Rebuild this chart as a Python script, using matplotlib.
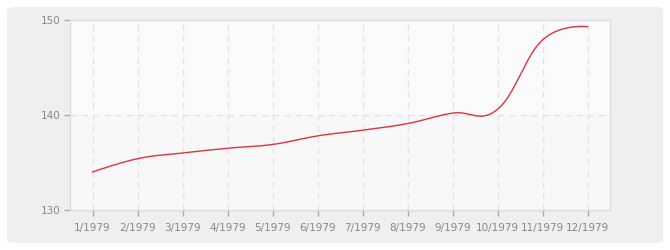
import numpy as np
import matplotlib
matplotlib.use("Agg")
import matplotlib.pyplot as plt
from matplotlib.patches import FancyBboxPatch, Rectangle

months = ["1/1979", "2/1979", "3/1979", "4/1979", "5/1979", "6/1979",
          "7/1979", "8/1979", "9/1979", "10/1979", "11/1979", "12/1979"]
values = [134.0, 135.4, 136.0, 136.5, 136.9, 137.8, 138.4, 139.1, 140.2, 140.6, 147.9, 149.3]
yticks = [130, 140, 150]

matplotlib.rcParams["hatch.linewidth"] = 0.5


def controls(xs, ys, i, smoothing=1.5):
    """Left/right control points for point i (Highcharts style)."""
    n = len(xs)
    px, py = xs[i], ys[i]
    if i == 0 or i == n - 1:
        return (px, py), (px, py)
    d = smoothing + 1
    lx = (smoothing * px + xs[i - 1]) / d
    ly = (smoothing * py + ys[i - 1]) / d
    rx = (smoothing * px + xs[i + 1]) / d
    ry = (smoothing * py + ys[i + 1]) / d
    corr = ((ry - ly) * (rx - px)) / (rx - lx) + py - ry
    return (lx, ly + corr), (rx, ry + corr)


def spline(xs, ys, n=40):
    xs = np.asarray(xs, float); ys = np.asarray(ys, float)
    ctr = [controls(xs, ys, i) for i in range(len(xs))]
    outx, outy = [], []
    t = np.linspace(0, 1, n)[:, None]
    for i in range(len(xs) - 1):
        p0 = np.array([xs[i], ys[i]]); p3 = np.array([xs[i + 1], ys[i + 1]])
        c1 = np.array(ctr[i][1]); c2 = np.array(ctr[i + 1][0])
        pts = ((1 - t) ** 3) * p0 + 3 * ((1 - t) ** 2) * t * c1 + 3 * (1 - t) * t ** 2 * c2 + t ** 3 * p3
        outx.extend(pts[:, 0]); outy.extend(pts[:, 1])
    return np.array(outx), np.array(outy)


fig = plt.figure(figsize=(6.7, 2.5), dpi=100)
fig.patch.set_facecolor("white")
panel = FancyBboxPatch((7 / 670, 7 / 250), 656 / 670, 236 / 250,
                       boxstyle="round,pad=0,rounding_size=0.012",
                       transform=fig.transFigure, facecolor="#efefef",
                       edgecolor="none", zorder=-5)
fig.patches.append(panel)

ax = fig.add_axes([70 / 670, 40 / 250, 540 / 670, 190 / 250])
ax.set_zorder(1)
ax.set_facecolor("white")
x = np.arange(len(months))
ax.set_xlim(-0.5, len(months) - 0.5)
ax.set_ylim(yticks[0], yticks[-1])

ax.add_patch(Rectangle((-0.5, 140), 12, 10, facecolor="white", edgecolor="#f4f4f4",
                       hatch="/" * 12, linewidth=0, zorder=0))
ax.add_patch(Rectangle((-0.5, 130), 12, 10, facecolor="#fbfbfb", edgecolor="#f3f3f3",
                       hatch="/" * 12, linewidth=0, zorder=0))

for xi in x:
    ax.axvline(xi, color="#e2e2e2", linestyle=(0, (5, 4)), linewidth=0.9, zorder=1)
ax.axhline(140, color="#e2e2e2", linestyle=(0, (5, 4)), linewidth=0.9, zorder=1)

sx, sy = spline(x, values)
ax.plot(sx, sy, color="#dd3344", linewidth=1.0, zorder=3)

ax.set_xticks(x)
ax.set_xticklabels(months)
ax.set_yticks(yticks)
for s in ax.spines.values():
    s.set_color("#dddddd")
    s.set_linewidth(1)
ax.tick_params(axis="both", colors="#aaaaaa", labelcolor="#888888", labelsize=7.5,
               length=4, width=1)
ax.tick_params(axis="x", pad=5)
ax.tick_params(axis="y", pad=3)

fig.savefig("out.png", dpi=100, facecolor=fig.get_facecolor())
